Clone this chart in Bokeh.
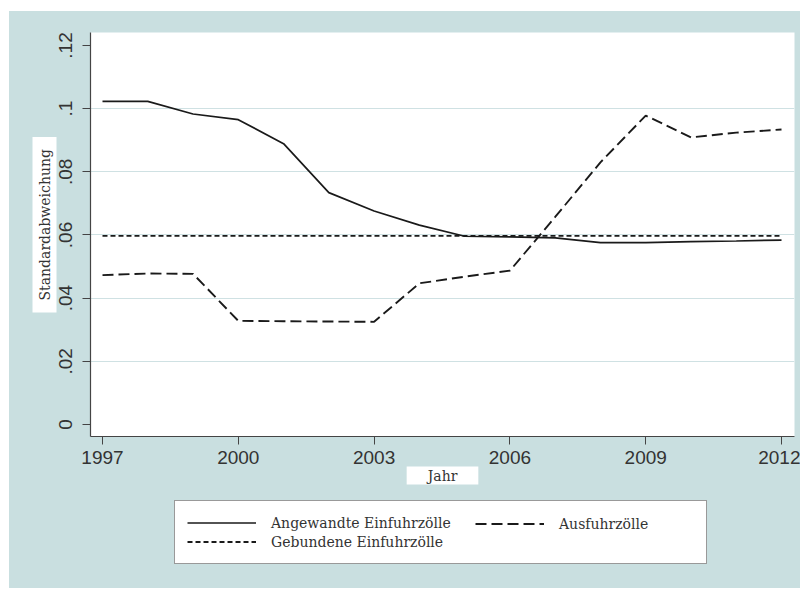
from bokeh.plotting import figure
from bokeh.layouts import column
from bokeh.models import Range1d, FixedTicker, Legend, LegendItem, Title
from bokeh.embed import file_html
from bokeh.resources import INLINE

# ---- data ----
years = [1997, 1998, 1999, 2000, 2001, 2002, 2003, 2004, 2005, 2006, 2007, 2008, 2009, 2010, 2011, 2012]
angewandte = [0.1023, 0.1023, 0.0983, 0.0965, 0.0889, 0.0734, 0.0676, 0.0631, 0.0596, 0.0594,
              0.0591, 0.0576, 0.0576, 0.0579, 0.0581, 0.0584]
ausfuhr = [0.0473, 0.0478, 0.0477, 0.0328, 0.0327, 0.0326, 0.0325, 0.0447, 0.0468, 0.0487,
           0.0657, 0.0830, 0.0978, 0.0909, 0.0924, 0.0934]
gebunden = [0.0597, 0.0597, 0.0597, 0.0597, 0.0597, 0.0597, 0.0597, 0.0597, 0.0597, 0.0597,
            0.0597, 0.0597, 0.0597, 0.0597, 0.0597, 0.0597]

x_ticks = [1997, 2000, 2003, 2006, 2009, 2012]
x_tick_labels = ["1997", "2000", "2003", "2006", "2009", "2012"]
y_ticks = [0, 0.02, 0.04, 0.06, 0.08, 0.1, 0.12]
y_tick_labels = ["0", ".02", ".04", ".06", ".08", ".1", ".12"]
grid_ticks = [0.02, 0.04, 0.06, 0.08, 0.1]

series_labels = ["Angewandte Einfuhrzölle", "Ausfuhrzölle", "Gebundene Einfuhrzölle"]
x_title = "Jahr"
y_title = "Standardabweichung"

# ---- style ----
BG = "#c9dfe0"
INK = "#1a1a1a"
TXT = "#333333"
SERIF = "DejaVu Serif"
W = 791
BORDER_L, BORDER_R = 81, 6

p = figure(width=W, height=483,
           x_range=Range1d(1996.735, 2012.287), y_range=Range1d(-0.0038, 0.1241),
           output_backend="svg", toolbar_location=None,
           min_border_left=BORDER_L, min_border_right=BORDER_R, min_border_top=21, min_border_bottom=58,
           background_fill_color="white", border_fill_color=BG, outline_line_color=None)

for ax in (p.xaxis[0], p.yaxis[0]):
    ax.axis_line_color = "#444444"
    ax.axis_line_width = 1.2
    ax.major_tick_line_color = "#444444"
    ax.major_tick_in = 0
    ax.major_tick_out = 8
    ax.minor_tick_line_color = None
    ax.major_label_text_font = "Liberation Sans"
    ax.major_label_text_font_size = "19px"
    ax.major_label_text_color = TXT

p.xaxis.ticker = FixedTicker(ticks=x_ticks)
p.xaxis.major_label_overrides = dict(zip(x_ticks, x_tick_labels))
p.xaxis.major_label_standoff = 6
p.yaxis.ticker = FixedTicker(ticks=y_ticks)
p.yaxis.major_label_overrides = dict(zip(y_ticks, y_tick_labels))
p.yaxis.major_label_orientation = "vertical"
p.yaxis.major_label_standoff = 10

p.xgrid.visible = False
p.ygrid.ticker = FixedTicker(ticks=grid_ticks)
p.ygrid.grid_line_color = "#cfe1e3"
p.ygrid.grid_line_width = 1.2

STYLES = [dict(line_color=INK, line_width=1.7),
          dict(line_color=INK, line_width=1.9, line_dash="11 5"),
          dict(line_color=INK, line_width=1.9, line_dash="5 3")]

p.line(years, angewandte, **STYLES[0])
p.line(years, ausfuhr, **STYLES[1])
p.line(years, gebunden, **STYLES[2])

# axis titles in white boxes
ty = Title(text=y_title, align="left", offset=124, standoff=0, vertical_align="bottom",
           text_font=SERIF, text_font_size="14px", text_font_style="normal", text_color=TXT,
           background_fill_color="white", padding=dict(left=12, right=12, top=4, bottom=4))
p.add_layout(ty, "left")
tx = Title(text=x_title, align="center", standoff=0, vertical_align="top",
           text_font=SERIF, text_font_size="14px", text_font_style="normal", text_color=TXT,
           background_fill_color="white", padding=dict(left=21, right=21, top=1, bottom=1))
p.add_layout(tx, "below")

# legend strip (separate panel below the chart; its lines lie outside its ranges)
lf = figure(width=W, height=94, x_range=Range1d(0, 1), y_range=Range1d(0, 1),
            output_backend="svg", toolbar_location=None,
            x_axis_location=None, y_axis_location=None,
            min_border_left=BORDER_L, min_border_right=BORDER_R, min_border_top=0, min_border_bottom=0,
            background_fill_color=BG, border_fill_color=BG, outline_line_color=None)
lf.grid.visible = False
k_ang = lf.line(years, angewandte, **STYLES[0])
k_aus = lf.line(years, ausfuhr, **STYLES[1])
k_geb = lf.line(years, gebunden, **STYLES[2])

legA = Legend(items=[LegendItem(label=series_labels[0], renderers=[k_ang]),
                     LegendItem(label=series_labels[2], renderers=[k_geb])],
              location=(84, 24), orientation="vertical", padding=12, spacing=0, margin=0,
              glyph_width=69, glyph_height=19, label_height=19, label_width=423, label_standoff=15,
              label_text_font=SERIF, label_text_font_size="14px", label_text_color=TXT,
              border_line_color="#333333", border_line_width=1.5,
              background_fill_color="white", background_fill_alpha=1.0)
legB = Legend(items=[LegendItem(label=series_labels[1], renderers=[k_aus])],
              location=(385, 55), orientation="vertical", padding=0, spacing=0, margin=0,
              glyph_width=69, glyph_height=19, label_height=19, label_standoff=15,
              label_text_font=SERIF, label_text_font_size="14px", label_text_color=TXT,
              border_line_alpha=0, background_fill_alpha=0)
lf.add_layout(legA)
lf.add_layout(legB)

layout = column(p, lf, spacing=0, margin=(11, 3, 0, 9), background=BG)
open("out.html", "w").write(file_html(layout, INLINE))
